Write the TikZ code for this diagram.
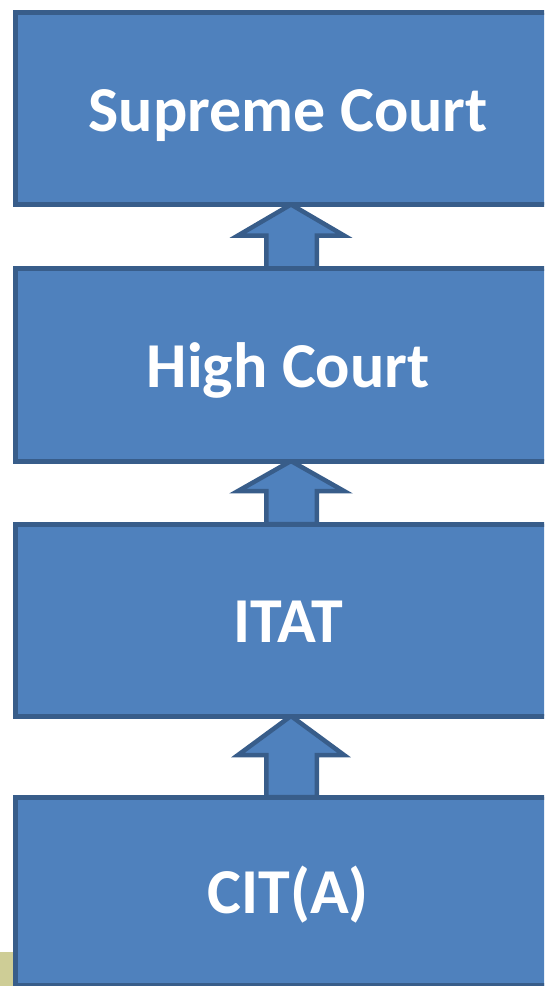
\documentclass[tikz,border=0pt]{standalone}
\usepackage{fontspec}
\setmainfont{Carlito}
\usetikzlibrary{calc,backgrounds}
\definecolor{boxfill}{HTML}{4F81BD}
\definecolor{boxline}{HTML}{385D8A}
\definecolor{tan}{RGB}{206,205,150}
\tikzset{
  courtbox/.style={draw=boxline, fill=boxfill, line width=5pt, rectangle,
    outer sep=0pt, inner sep=0pt, minimum width=545.5pt, anchor=north west,
    text=white, font=\bfseries\fontsize{64}{64}\selectfont,
    text height=45pt, text depth=0pt},
  uparrow/.style={draw=boxline, fill=boxfill, line width=4.5pt, line join=miter}
}
\newcommand{\blockarrow}[3]{%
  \draw[uparrow] let \p1=(#1.south), \p2=(#2.north) in
    (\x1+2.75pt,\y1) -- (\x1+55.75pt,\y1-#3) -- (\x1+28.5pt,\y1-#3)
    -- (\x1+28.5pt,\y2) -- (\x1-22pt,\y2) -- (\x1-22pt,\y1-#3)
    -- (\x1-50.25pt,\y1-#3) -- cycle;}
\begin{document}
\begin{tikzpicture}[x=1pt,y=-1pt]
\useasboundingbox (0,0) rectangle (544,986);
\clip (0,0) rectangle (544,986);
\fill[tan] (0,952) rectangle (14,986);
\node[courtbox, minimum height=192pt] (b1) at (15.5,12.5) {Supreme Court};
\node[courtbox, minimum height=192.5pt] (b2) at (15.5,268.5) {High Court};
\node[courtbox, minimum height=192pt] (b3) at (15.5,524) {ITAT};
\node[courtbox, minimum height=188.5pt] (b4) at (15.5,797) {CIT(A)};
\begin{scope}[on background layer]
\blockarrow{b1}{b2}{31pt}
\blockarrow{b2}{b3}{30pt}
\blockarrow{b3}{b4}{39pt}
\end{scope}
\end{tikzpicture}
\end{document}
